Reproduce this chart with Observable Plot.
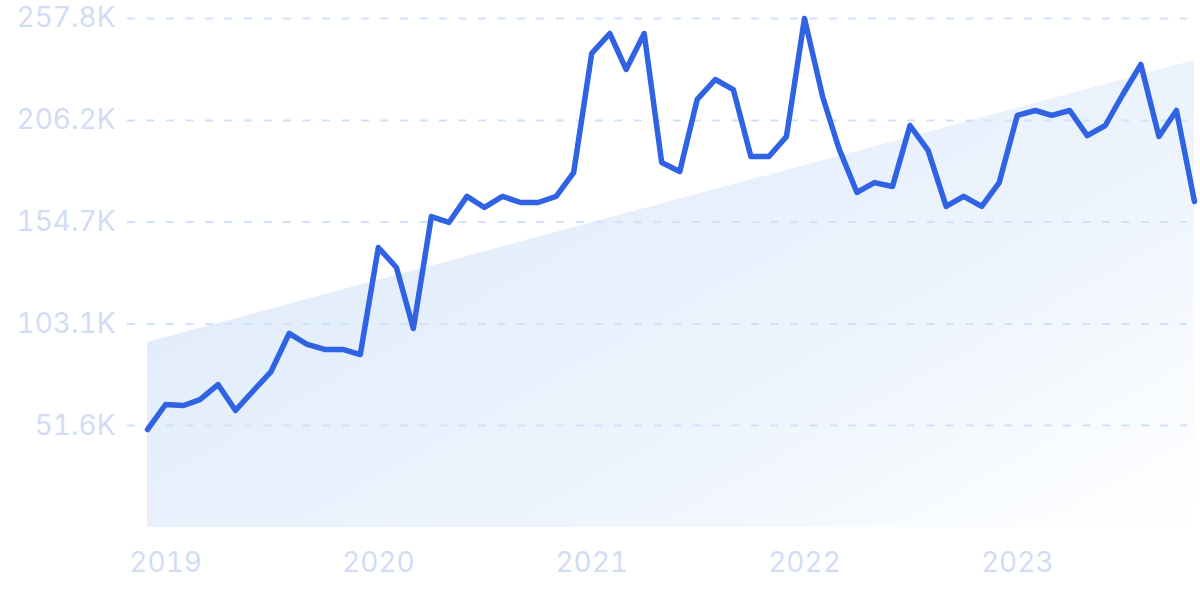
<!DOCTYPE html>
<html>
<head>
<meta charset="utf-8">
<script src="https://cdn.jsdelivr.net/npm/d3@7"></script>
<script src="https://cdn.jsdelivr.net/npm/@observablehq/plot@0.6"></script>
<style>
  html, body { margin: 0; padding: 0; background: #ffffff; }
  #chart { width: 1200px; height: 599px; }
  svg { font-family: Inter, "Noto Sans", sans-serif; }
</style>
</head>
<body>
<div id="chart"></div>
<script>
// Monthly values (Dec 2018 – Nov 2023)
const startMonth = "2018-12-01";
const values = [
  49.6, 62.3, 61.8, 64.8, 72.4, 59.3, 69.4, 79.0, 98.3, 92.7, 90.2, 90.2,
  87.6, 141.8, 131.7, 100.8, 157.5, 154.5, 167.7, 162.1, 167.7, 164.6, 164.6, 167.7,
  179.8, 240.1, 250.2, 232.0, 250.2, 184.9, 180.3, 216.8, 226.9, 221.8, 187.9, 187.9,
  198.0, 257.8, 218.3, 192.0, 169.7, 174.7, 172.7, 203.6, 191.0, 162.6, 167.7, 162.6,
  174.7, 208.7, 211.2, 208.7, 211.2, 198.5, 203.6, 219.3, 234.5, 198.0, 211.2, 165.1
];
// Trend line endpoints (first and last month)
const trendValues = [93.7, 236.5];
// Axis ticks
const yTickValues = [51.6, 103.1, 154.7, 206.2, 257.8];
const yTickLabels = ["51.6K", "103.1K", "154.7K", "206.2K", "257.8K"];
const xTickYears = [2019, 2020, 2021, 2022, 2023];

const start = new Date(startMonth);
const series = values.map((v, i) => ({
  date: d3.utcMonth.offset(start, i),
  value: v * 1000
}));
const trend = [
  {date: series[0].date, value: trendValues[0] * 1000},
  {date: series[series.length - 1].date, value: trendValues[1] * 1000}
];
const yTicks = yTickValues.map(v => v * 1000);
const xTicks = xTickYears.map(y => new Date(Date.UTC(y, 0, 1)));

const labelColor = "#d3dcf5";

const plot = Plot.plot({
  width: 1200,
  height: 599,
  marginLeft: 147,
  marginRight: 6,
  marginTop: 18,
  marginBottom: 72,
  style: {fontFamily: "Inter, 'Noto Sans', sans-serif", background: "transparent"},
  x: {type: "utc", domain: [series[0].date, series[series.length - 1].date]},
  y: {domain: [0, 257800]},
  marks: [
    Plot.areaY(trend, {x: "date", y: "value", fill: "url(#trendGrad)"}),
    Plot.ruleY(yTicks, {
      stroke: "#cfe1fb",
      strokeWidth: 2,
      strokeDasharray: "8,11.5",
      insetLeft: -20,
      insetRight: 7
    }),
    Plot.lineY(series, {
      x: "date", y: "value",
      stroke: "#2f63e4",
      strokeWidth: 5.5,
      strokeLinejoin: "round",
      strokeLinecap: "round"
    }),
    Plot.axisY({
      ticks: yTicks,
      tickFormat: (d, i) => yTickLabels[i],
      tickSize: 0,
      tickPadding: 32,
      fontSize: 28,
      fill: labelColor,
      label: null
    }),
    Plot.axisX({
      ticks: xTicks,
      tickFormat: d => String(d.getUTCFullYear()),
      tickSize: 0,
      tickPadding: 25,
      fontSize: 28,
      fill: labelColor,
      label: null
    })
  ]
});

const svg = d3.select(plot);
const defs = svg.insert("defs", ":first-child");
const grad = defs.append("linearGradient")
  .attr("id", "trendGrad")
  .attr("x1", "0").attr("y1", "0.2")
  .attr("x2", "1").attr("y2", "1");
grad.append("stop").attr("offset", "0").attr("stop-color", "#dde9fa");
grad.append("stop").attr("offset", "0.6").attr("stop-color", "#edf4fd");
grad.append("stop").attr("offset", "1").attr("stop-color", "#ffffff");

document.getElementById("chart").appendChild(plot);
</script>
</body>
</html>
